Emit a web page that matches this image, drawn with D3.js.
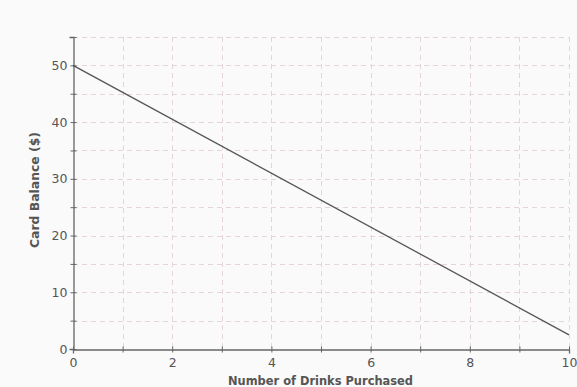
<!DOCTYPE html>
<html><head><meta charset="utf-8">
<script src="https://cdn.jsdelivr.net/npm/d3@7"></script>
<style>
html,body{margin:0;padding:0;background:#fafafa;}
svg{display:block;font-family:"DejaVu Sans",Verdana,sans-serif;}
</style></head>
<body>
<svg id="c" width="577" height="387"></svg>
<script>
const drinks = [0, 10];
const balance = [50, 2.5];
const xTicks = [0, 2, 4, 6, 8, 10];
const yTicks = [0, 10, 20, 30, 40, 50];
const xMinor = [0,1,2,3,4,5,6,7,8,9,10];
const yMinor = [0,5,10,15,20,25,30,35,40,45,50,55];
const xTitle = "Number of Drinks Purchased";
const yTitle = "Card Balance ($)";

const svg = d3.select("#c");
const m = {l:73, r:8, t:37, b:38};
const W = 577, H = 387;
const x = d3.scaleLinear().domain([0,10]).range([m.l, W-m.r]);
const y = d3.scaleLinear().domain([0,55]).range([H-m.b, m.t]);

svg.append("rect").attr("width",W).attr("height",H).attr("fill","#fafafa");

const grid = svg.append("g").attr("stroke","#e4d6d6").attr("stroke-width",1).attr("stroke-dasharray","5,4");
grid.selectAll("line.v").data(xMinor.filter(d=>d>0)).join("line")
  .attr("x1",d=>Math.round(x(d))+0.5).attr("x2",d=>Math.round(x(d))+0.5)
  .attr("y1",y(55)).attr("y2",y(0));
grid.selectAll("line.h").data(yMinor.filter(d=>d>0)).join("line")
  .attr("y1",d=>Math.round(y(d))+0.5).attr("y2",d=>Math.round(y(d))+0.5)
  .attr("x1",x(0)).attr("x2",x(10));

const axColor = "#666";
const xa = svg.append("g").attr("transform",`translate(0,${Math.round(y(0))+0.5})`)
  .call(d3.axisBottom(x).tickValues(xMinor).tickSize(4).tickFormat(d=>xTicks.includes(d)?d:""));
const ya = svg.append("g").attr("transform",`translate(${Math.round(x(0))+0.5},0)`)
  .call(d3.axisLeft(y).tickValues(yMinor).tickSize(4).tickFormat(d=>yTicks.includes(d)?d:""));
[xa,ya].forEach(a=>{
  a.select(".domain").attr("stroke",axColor).attr("stroke-width",1.3);
  a.selectAll(".tick line").attr("stroke",axColor);
  a.selectAll(".tick text").attr("fill","#555").attr("font-size",12.5).attr("font-family","DejaVu Sans, Verdana, sans-serif");
});
xa.selectAll(".tick line").attr("y1",-3).attr("y2",3);
ya.selectAll(".tick line").attr("x1",3).attr("x2",-3);
xa.selectAll(".tick text").attr("dy","0.95em").attr("y",6);
ya.selectAll(".tick text").attr("x",-6);

const pts = drinks.map((d,i)=>[d,balance[i]]);
svg.append("path").datum(pts)
  .attr("fill","none").attr("stroke","#555").attr("stroke-width",1.3)
  .attr("d", d3.line().x(d=>x(d[0])).y(d=>y(d[1])));

svg.append("text").attr("x",320.5).attr("y",385)
  .attr("text-anchor","middle").attr("font-size",12.5).attr("font-weight","bold").attr("fill","#555")
  .attr("textLength",185).attr("lengthAdjust","spacingAndGlyphs")
  .text(xTitle);
svg.append("text").attr("transform",`translate(39,190) rotate(-90)`)
  .attr("text-anchor","middle").attr("font-size",12.5).attr("font-weight","bold").attr("fill","#555")
  .attr("textLength",116).attr("lengthAdjust","spacingAndGlyphs")
  .text(yTitle);
</script>
</body></html>
